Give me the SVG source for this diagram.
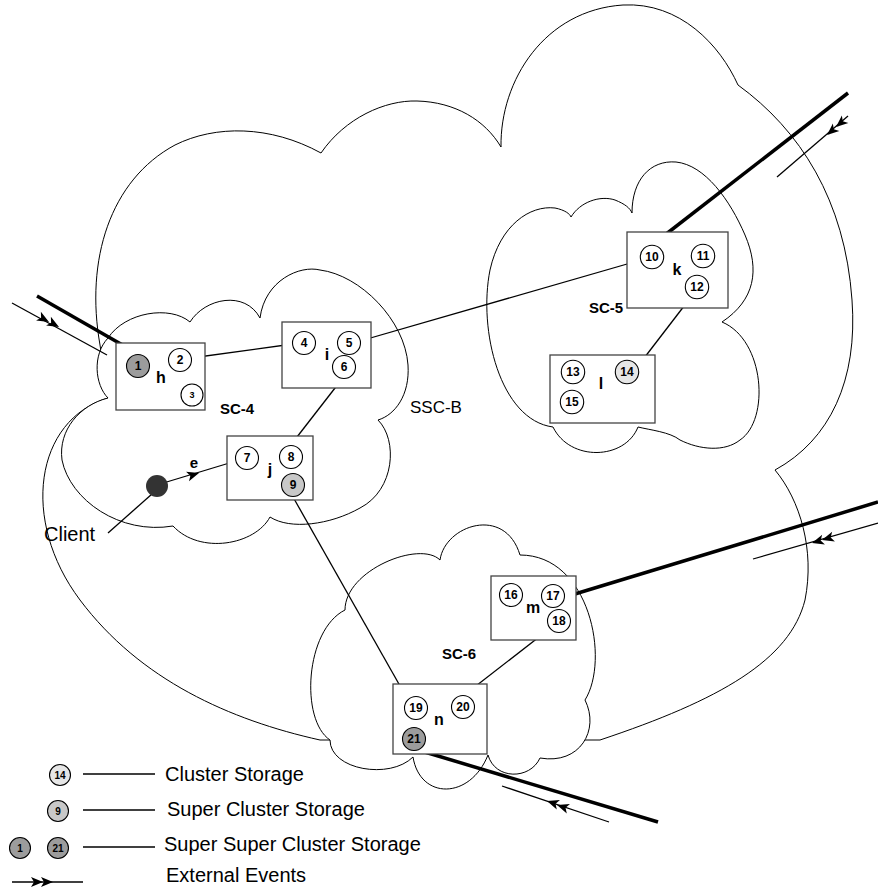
<svg xmlns="http://www.w3.org/2000/svg" width="878" height="888" viewBox="0 0 878 888">
<defs>
<path id="ah" d="M0,0 L-12,-5 L-9,0 L-12,5 Z" fill="#000"/>
</defs>
<style>
.cl{fill:#fff;stroke:#000;stroke-width:1}
.box{fill:#fff;stroke:#444;stroke-width:1.3}
.st{fill:#fff;stroke:#000;stroke-width:1.1}
.g1{fill:#e6e6e6}
.g2{fill:#c8c8c8}
.g3{fill:#9c9c9c}
.num{font-family:"Liberation Sans",Arial,sans-serif;font-weight:bold;font-size:12px;text-anchor:middle}
.lbl{font-family:"Liberation Sans",Arial,sans-serif;font-weight:bold;font-size:16px;text-anchor:middle}
.sc{font-family:"Liberation Sans",Arial,sans-serif;font-weight:bold;font-size:15px}
.txt{font-family:"Liberation Sans",Arial,sans-serif;font-size:20px}
.ln{stroke:#000;stroke-width:1.3;fill:none}
.thk{stroke:#000;stroke-width:3.5;fill:none}
</style>

<g id="clouds">
<path id="ssc-b" class="cl" d="M100,345 C 85,260 110,180 175,145 C 215,125 270,125 321,153 C 345,118 385,100 417,101 C 455,102 485,120 501,147 C 500,80 545,10 623,5 C 680,2 720,45 738,85 C 800,130 845,200 852,300 C 858,380 830,440 775,470 C 800,500 815,550 805,600 C 790,660 720,700 600,740 L 320,740 C 230,720 140,680 80,600 C 20,520 35,420 108,398 Z"/>
<path id="sc4-cloud" class="cl" d="M108,338 C 125,312 170,305 190,322 C 205,298 245,290 260,318 C 265,280 300,265 320,270 C 360,275 405,320 408,365 C 410,395 395,415 378,420 C 398,440 395,490 360,508 C 330,525 290,530 270,517 C 255,545 200,555 173,526 C 120,535 70,500 62,460 C 58,430 80,405 108,398 C 95,385 92,355 108,338 Z"/>
<path id="sc5-cloud" class="cl" d="M553,427 C 500,420 478,330 490,270 C 500,225 530,205 555,208 C 565,210 570,214 571,217 C 580,202 600,195 615,200 C 625,204 630,208 632,213 C 632,180 650,160 676,162 C 705,165 730,200 745,235 C 760,270 755,300 722,322 C 765,340 770,420 740,440 C 725,452 700,450 680,440 C 670,432 650,430 638,427 C 625,460 570,462 553,427 Z"/>
<path id="sc6-cloud" class="cl" d="M345,610 C 345,570 420,540 440,560 C 445,525 505,505 520,555 C 590,555 610,660 585,700 C 600,730 580,765 540,758 C 530,780 495,780 488,755 C 470,800 420,800 413,757 C 390,780 330,770 330,740 C 300,720 305,630 345,610 Z"/>
</g>

<g id="connectors">
<line class="ln" x1="191" y1="358" x2="293" y2="344"/>
<line class="ln" x1="360" y1="341" x2="641" y2="260"/>
<line class="ln" x1="342" y1="379" x2="290" y2="446"/>
<line class="ln" x1="691" y1="297" x2="638" y2="366"/>
<line class="ln" x1="293" y1="497" x2="408" y2="700"/>
<line class="ln" x1="548" y1="630" x2="463" y2="696"/>
<line class="ln" x1="108" y1="533" x2="152" y2="494"/>
<line class="ln" x1="160" y1="484" x2="236" y2="461"/>
<use href="#ah" transform="translate(199,473) rotate(-17)"/>
<line class="thk" x1="37" y1="296" x2="140" y2="355"/>
<line class="ln" x1="12" y1="303" x2="107" y2="355"/>
<use href="#ah" transform="translate(49,322) rotate(28.7)"/>
<use href="#ah" transform="translate(59,327) rotate(28.7)"/>
<line class="thk" x1="652" y1="245" x2="848" y2="93"/>
<line class="ln" x1="848" y1="116" x2="777" y2="177"/>
<use href="#ah" transform="translate(836,127) rotate(139.3)"/>
<use href="#ah" transform="translate(827,135) rotate(139.3)"/>
<line class="thk" x1="565" y1="597" x2="878" y2="502"/>
<line class="ln" x1="878" y1="523" x2="753" y2="559"/>
<use href="#ah" transform="translate(812,543) rotate(163.9)"/>
<use href="#ah" transform="translate(822,540) rotate(163.9)"/>
<line class="thk" x1="418" y1="750" x2="658" y2="822"/>
<line class="ln" x1="609" y1="822" x2="502" y2="786"/>
<use href="#ah" transform="translate(547,801) rotate(198.6)"/>
<use href="#ah" transform="translate(557,805) rotate(198.6)"/>
</g>

<g id="node-h">
<rect class="box" x="116" y="343" width="89" height="67"/>
<circle class="st g3" cx="138" cy="366" r="11.5"/><text class="num" x="138" y="370">1</text>
<circle class="st" cx="180" cy="360" r="11.5"/><text class="num" x="180" y="364">2</text>
<circle class="st" cx="192" cy="395" r="11"/><text class="num" x="192" y="398" style="font-size:9px">3</text>
<text class="lbl" x="161" y="383">h</text>
</g>
<g id="node-i">
<rect class="box" x="282" y="322" width="89" height="66"/>
<circle class="st" cx="304" cy="343" r="11.5"/><text class="num" x="304" y="347">4</text>
<circle class="st" cx="349" cy="343" r="11.5"/><text class="num" x="349" y="347">5</text>
<circle class="st" cx="344" cy="367" r="11.5"/><text class="num" x="344" y="371">6</text>
<text class="lbl" x="327" y="360">i</text>
</g>
<g id="node-j">
<rect class="box" x="227" y="436" width="86" height="64"/>
<circle class="st" cx="247" cy="458" r="11.5"/><text class="num" x="247" y="462">7</text>
<circle class="st" cx="291" cy="457" r="11.5"/><text class="num" x="291" y="461">8</text>
<circle class="st g2" cx="293" cy="485" r="11.5"/><text class="num" x="293" y="489">9</text>
<text class="lbl" x="270" y="475">j</text>
</g>
<g id="node-k">
<rect class="box" x="627" y="232" width="101" height="76"/>
<circle class="st" cx="652" cy="257" r="11.7"/><text class="num" x="652" y="261">10</text>
<circle class="st" cx="703" cy="256" r="11.7"/><text class="num" x="703" y="260">11</text>
<circle class="st" cx="697" cy="287" r="11.7"/><text class="num" x="697" y="291">12</text>
<text class="lbl" x="677" y="275">k</text>
</g>
<g id="node-l">
<rect class="box" x="550" y="355" width="105" height="68"/>
<circle class="st" cx="573" cy="372" r="11.7"/><text class="num" x="573" y="376">13</text>
<circle class="st g1" cx="627" cy="372" r="11.7"/><text class="num" x="627" y="376">14</text>
<circle class="st" cx="572" cy="402" r="11.7"/><text class="num" x="572" y="406">15</text>
<text class="lbl" x="601" y="389">l</text>
</g>
<g id="node-m">
<rect class="box" x="491" y="576" width="85" height="64"/>
<circle class="st" cx="511" cy="595" r="11.5"/><text class="num" x="511" y="599">16</text>
<circle class="st" cx="553" cy="596" r="11.5"/><text class="num" x="553" y="600">17</text>
<circle class="st" cx="559" cy="621" r="11.5"/><text class="num" x="559" y="625">18</text>
<text class="lbl" x="533" y="613">m</text>
</g>
<g id="node-n">
<rect class="box" x="393" y="684" width="94" height="70"/>
<circle class="st" cx="416" cy="708" r="11.5"/><text class="num" x="416" y="712">19</text>
<circle class="st" cx="463" cy="707" r="11.5"/><text class="num" x="463" y="711">20</text>
<circle class="st g3" cx="414" cy="739" r="11.5"/><text class="num" x="414" y="743">21</text>
<text class="lbl" x="439" y="725">n</text>
</g>
<g id="client">
<circle cx="157" cy="486" r="11" fill="#333"/>
<text class="lbl" x="194" y="468" style="font-size:15px">e</text>
<text class="txt" x="44" y="541">Client</text>
</g>
<g id="labels">
<text class="sc" x="220" y="414">SC-4</text>
<text class="sc" x="589" y="313">SC-5</text>
<text class="sc" x="442" y="659">SC-6</text>
<text class="txt" x="410" y="413" style="font-size:17px">SSC-B</text>
</g>
<g id="legend">
<circle class="st g1" cx="60" cy="775" r="10.5"/><text class="num" x="60" y="779" style="font-size:10px">14</text>
<line class="ln" x1="83" y1="774" x2="155" y2="774"/>
<text class="txt" x="165" y="781">Cluster Storage</text>
<circle class="st g2" cx="58" cy="811" r="10.5"/><text class="num" x="58" y="815" style="font-size:10px">9</text>
<line class="ln" x1="83" y1="810" x2="155" y2="810"/>
<text class="txt" x="167" y="816">Super Cluster Storage</text>
<circle class="st g3" cx="20" cy="848" r="10.5"/><text class="num" x="20" y="852" style="font-size:10px">1</text>
<circle class="st g3" cx="58" cy="848" r="10.5"/><text class="num" x="58" y="852" style="font-size:10px">21</text>
<line class="ln" x1="83" y1="847" x2="155" y2="847"/>
<text class="txt" x="164" y="851">Super Super Cluster Storage</text>
<line class="ln" x1="12" y1="882" x2="83" y2="882"/>
<use href="#ah" transform="translate(43,882)"/>
<use href="#ah" transform="translate(53,882)"/>
<text class="txt" x="166" y="882">External Events</text>
</g>
</svg>
